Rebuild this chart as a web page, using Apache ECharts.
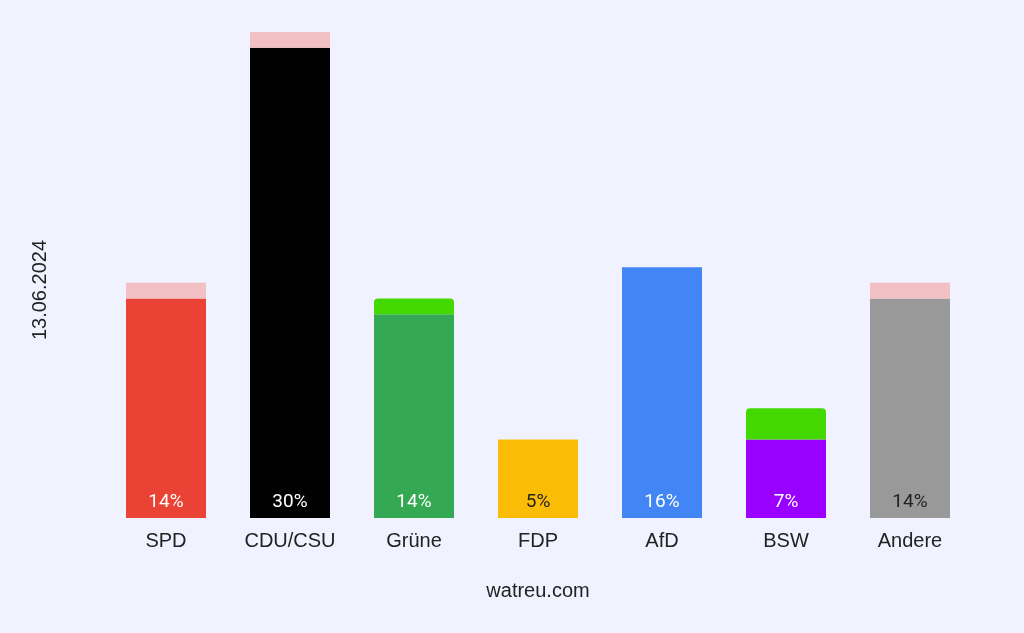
<!DOCTYPE html>
<html><head><meta charset="utf-8">
<script src="https://cdn.jsdelivr.net/npm/echarts@6/dist/echarts.min.js"></script>
<style>html,body{margin:0;padding:0;background:#f0f3ff;}#c{width:1024px;height:633px;}</style>
</head><body><div id="c"></div>
<script>
const categories = ['SPD','CDU/CSU','Grüne','FDP','AfD','BSW','Andere'];
const current = [14,30,14,5,16,7,14];
const previous = [15,31,13,5,16,5,15];
const partyColors = ['#ea4335','#000000','#34a853','#fbbc05','#4285f4','#9900ff','#999999'];
const labelColors = ['#ffffff','#ffffff','#ffffff','#222222','#ffffff','#ffffff','#222222'];
const dateLabel = '13.06.2024';
const sourceLabel = 'watreu.com';

const base = current.map((v,i)=>Math.min(v,previous[i]));
const gain = current.map((v,i)=>Math.max(0,v-previous[i]));
const loss = current.map((v,i)=>Math.max(0,previous[i]-v));

const sans = '"Liberation Sans", Arial, sans-serif';
const chart = echarts.init(document.getElementById('c'));
chart.setOption({
  backgroundColor:'#f0f3ff',
  textStyle:{fontFamily:sans},
  grid:{left:104,right:52,top:32,bottom:115},
  xAxis:{type:'category',data:categories,
    axisLine:{show:false},axisTick:{show:false},
    axisLabel:{fontSize:20,color:'#222',margin:13,fontFamily:sans},
    name:sourceLabel,nameLocation:'middle',nameGap:63,
    nameTextStyle:{fontSize:20,color:'#222',fontFamily:sans}},
  yAxis:{type:'value',min:0,max:31,show:false},
  graphic:[{type:'text',left:30,top:240,rotation:Math.PI/2,
    style:{text:dateLabel,fontSize:20,fill:'#222',fontFamily:sans}}],
  series:[
    {type:'bar',stack:'s',barWidth:80,
      data:base.map((v,i)=>({value:v,itemStyle:{color:partyColors[i]},label:{color:labelColors[i]}})),
      label:{show:true,position:'insideBottom',distance:6,fontSize:19,fontFamily:'Roboto',
        formatter:p=>current[p.dataIndex]+'%'},
      silent:true},
    {type:'bar',stack:'s',barWidth:80,data:gain,itemStyle:{color:'#43d800',borderRadius:[4,4,0,0]},silent:true},
    {type:'bar',stack:'s',barWidth:80,data:loss,itemStyle:{color:'#f2c0c3'},silent:true}
  ]
});
</script></body></html>
